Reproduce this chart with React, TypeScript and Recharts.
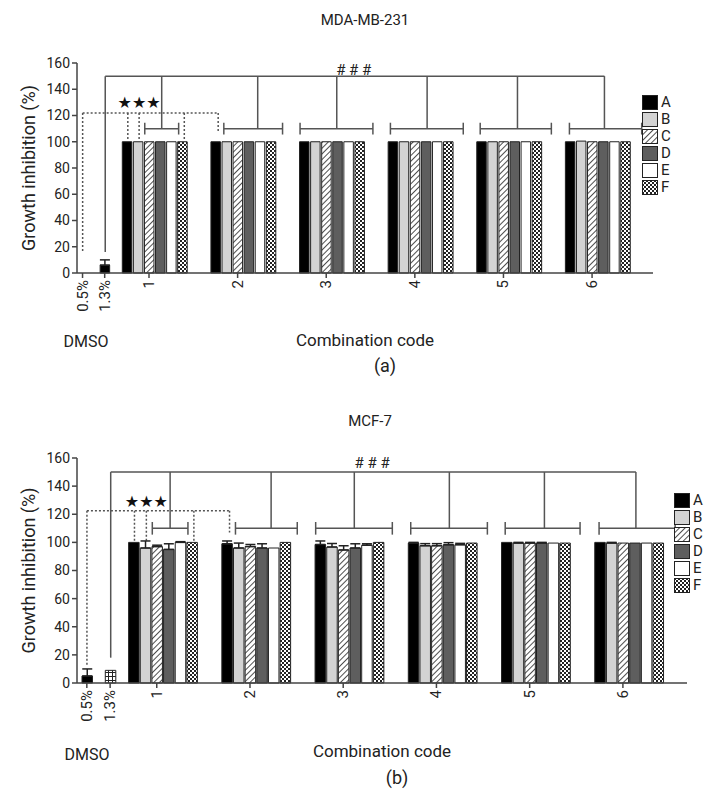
import React from "react";
import {
  Bar,
  BarChart,
  Cell,
  ErrorBar,
  Label,
  Legend,
  ReferenceDot,
  ReferenceLine,
  XAxis,
  YAxis,
} from "recharts";

const seriesNames = ["A", "B", "C", "D", "E", "F"];
const comboCodes = ["1", "2", "3", "4", "5", "6"];
const dmsoDoses = ["0.5%", "1.3%"];
const yTicks = [0, 20, 40, 60, 80, 100, 120, 140, 160];

// MDA-MB-231, panel (a)
const mdaDmso = [0, 6];
const mdaDmsoSd = [0, 4];
const mdaA = [100, 100, 100, 100, 100, 100];
const mdaB = [100, 100, 100, 100, 100, 100.5];
const mdaC = [100, 100, 100, 100, 100, 100];
const mdaD = [100, 100, 100, 100, 100, 100];
const mdaE = [100, 100, 100, 100, 100, 100];
const mdaF = [100, 100, 100, 100, 100, 100];
const mdaNoSd = [0, 0, 0, 0, 0, 0];

// MCF-7, panel (b)
const mcfDmso = [5, 9];
const mcfDmsoSd = [5, 0];
const mcfA = [100, 99, 98.5, 99.5, 100, 100];
const mcfB = [96, 96, 96.7, 97.6, 99.5, 99.5];
const mcfC = [97, 97, 94.6, 97.6, 99.5, 99.5];
const mcfD = [95, 96, 96, 98.3, 99.5, 99.5];
const mcfE = [100, 96, 98, 98.3, 99.5, 99.5];
const mcfF = [100, 100, 100, 99.5, 99.5, 99.5];
const mcfASd = [0, 2, 2.5, 0.5, 0, 0];
const mcfBSd = [5, 3.5, 2.5, 1.5, 0.5, 0.5];
const mcfCSd = [1, 1.5, 3, 1.5, 0.5, 0];
const mcfDSd = [4, 3, 3, 1.5, 0.5, 0];
const mcfESd = [0.5, 0, 1, 1, 0, 0];
const mcfFSd = [0, 0, 0, 0, 0, 0];

const FONT = "Roboto, 'DejaVu Sans', sans-serif";
const INK = "#222";
const LINE = "#555";

// bracket under the "###" line for each combination: from, to, drop (in bar slots from bar A)
const bracketSpans = [
  [2, 5, 3.5],
  [1, 6.2, 4],
  [-0.25, 6.2, 3],
  [-0.25, 6.2, 3],
  [-0.3, 6, 3],
  [-0.4, 6, 2.7],
];

type Row = {
  id: string;
  value: number | null;
  sd?: [number, number];
  fill: string;
  tick?: string;
};

function seriesFill(prefix: string, s: number) {
  return ["#000", "#d3d3d3", `url(#${prefix}-hatch)`, "#5e5e5e", "#fff", `url(#${prefix}-check)`][s];
}

function buildRows(
  prefix: string,
  dmso: number[],
  dmsoSd: number[],
  dmsoFills: string[],
  series: number[][],
  sds: number[][]
): Row[] {
  const rows: Row[] = [];
  const gap = () => rows.push({ id: `gap${rows.length}`, value: null, fill: "none" });
  dmsoDoses.forEach((dose, i) => {
    rows.push({
      id: `dmso${i}`,
      value: dmso[i],
      sd: dmsoSd[i] ? [0, dmsoSd[i]] : undefined,
      fill: dmsoFills[i],
      tick: dose,
    });
    gap();
  });
  comboCodes.forEach((code, g) => {
    seriesNames.forEach((name, s) => {
      rows.push({
        id: `${code}${name}`,
        value: series[s][g],
        sd: sds[s][g] ? [0, sds[s][g]] : undefined,
        fill: seriesFill(prefix, s),
        tick: s === 2 ? code : undefined,
      });
    });
    gap();
    gap();
  });
  return rows;
}

const mdaRows = buildRows(
  "mda",
  mdaDmso,
  mdaDmsoSd,
  ["none", "#000"],
  [mdaA, mdaB, mdaC, mdaD, mdaE, mdaF],
  [mdaNoSd, mdaNoSd, mdaNoSd, mdaNoSd, mdaNoSd, mdaNoSd]
);

const mcfRows = buildRows(
  "mcf",
  mcfDmso,
  mcfDmsoSd,
  ["#000", "url(#mcf-grid)"],
  [mcfA, mcfB, mcfC, mcfD, mcfE, mcfF],
  [mcfASd, mcfBSd, mcfCSd, mcfDSd, mcfESd, mcfFSd]
);

interface PanelProps {
  prefix: string;
  rows: Row[];
  height: number;
  marginTop: number;
  marginRight: number;
  plotBottom: number;
  padLeft: number;
  barSize: number;
  legendLeft: number;
  legendTop: number;
  labelOffset: number;
  dotDrop: number;
  lineDrop: number;
  dashY: number;
  starY: number;
  hashY: number;
}

function Panel(p: PanelProps) {
  const { rows, prefix } = p;
  const idx = (id: string) => rows.findIndex((r) => r.id === id);
  const gs = (g: number) => idx(`${comboCodes[g]}A`);
  const ticks = new Map(rows.filter((r) => r.tick).map((r) => [r.id, r.tick as string]));

  const segs: { x1: number; y1: number; x2: number; y2: number; dash: boolean }[] = [];
  const add = (x1: number, y1: number, x2: number, y2: number, dash = false) =>
    segs.push({ x1, y1, x2, y2, dash });

  const d0 = idx("dmso0") + 0.5;
  const d1 = idx("dmso1") + 0.5;
  add(d1, 150, gs(5) + bracketSpans[5][2], 150);
  add(d1, p.lineDrop, d1, 150);
  bracketSpans.forEach(([from, to, drop], g) => {
    const s = gs(g);
    add(s + drop, 150, s + drop, 110);
    add(s + from, 110, s + to, 110);
    add(s + from, 105.5, s + from, 114.5);
    add(s + to, 105.5, s + to, 114.5);
  });
  add(d0, p.dashY, gs(1) + 0.5, p.dashY, true);
  add(d0, p.dashY, d0, p.dotDrop, true);
  [0.5, 1.5, 5.5].forEach((o) => add(gs(0) + o, p.dashY, gs(0) + o, 101, true));
  add(gs(1) + 0.5, p.dashY, gs(1) + 0.5, 107, true);

  const renderTick = (props: any) => {
    const { x, y, payload } = props;
    const label = ticks.get(payload.value);
    if (!label) return <g />;
    return (
      <g>
        <line x1={x} x2={x} y1={y - 8} y2={y - 3} stroke="#444" strokeWidth={1.5} />
        <text
          x={x}
          y={y - 1}
          transform={`rotate(-90 ${x} ${y - 1})`}
          textAnchor="end"
          dominantBaseline="central"
          fontSize={15}
          fill={INK}
          fontFamily={FONT}
        >
          {label}
        </text>
      </g>
    );
  };

  const renderLegend = () => (
    <div style={{ fontFamily: FONT, fontSize: 15, color: INK }}>
      {seriesNames.map((name, s) => (
        <div key={name} style={{ display: "flex", alignItems: "center", height: 17 }}>
          <svg width={16} height={15}>
            <rect x={0.5} y={0.5} width={15} height={14} fill={seriesFill(prefix, s)} stroke="#222" />
          </svg>
          <span style={{ marginLeft: 3, lineHeight: "15px" }}>{name}</span>
        </div>
      ))}
    </div>
  );

  return (
    <BarChart
      width={726}
      height={p.height}
      data={rows}
      margin={{ top: p.marginTop, right: p.marginRight, bottom: 0, left: 27 }}
      barCategoryGap={0}
      barGap={0}
    >
      <defs>
        <pattern id={`${prefix}-hatch`} width={4} height={4} patternUnits="userSpaceOnUse" patternTransform="rotate(45)">
          <rect width={4} height={4} fill="#fff" />
          <line x1={0} y1={0} x2={0} y2={4} stroke="#222" strokeWidth={1.6} />
        </pattern>
        <pattern id={`${prefix}-check`} width={4} height={4} patternUnits="userSpaceOnUse">
          <rect width={4} height={4} fill="#fff" />
          <rect width={2} height={2} fill="#222" />
          <rect x={2} y={2} width={2} height={2} fill="#222" />
        </pattern>
        <pattern id={`${prefix}-grid`} width={4} height={4} patternUnits="userSpaceOnUse">
          <rect width={4} height={4} fill="#fff" />
          <line x1={0} y1={0.5} x2={4} y2={0.5} stroke="#222" strokeWidth={1} />
          <line x1={0.5} y1={0} x2={0.5} y2={4} stroke="#222" strokeWidth={1} />
        </pattern>
      </defs>
      <XAxis
        dataKey="id"
        interval={0}
        tickLine={false}
        tickSize={5}
        tickMargin={3}
        tick={renderTick}
        height={p.height - p.plotBottom}
        padding={{ left: p.padLeft, right: 0 }}
        axisLine={{ stroke: "#444", strokeWidth: 1.5 }}
      >
        <Label
          value="Combination code"
          position="insideBottom"
          offset={p.labelOffset}
          style={{ fontSize: 17, fill: INK, fontFamily: FONT }}
        />
      </XAxis>
      <XAxis
        xAxisId="pos"
        type="number"
        domain={[0, rows.length]}
        hide
        allowDataOverflow
        padding={{ left: p.padLeft, right: 0 }}
      />
      <YAxis
        domain={[0, 160]}
        ticks={yTicks}
        interval={0}
        width={50}
        tickSize={5}
        tick={{ fontSize: 14, fill: INK, fontFamily: FONT }}
        axisLine={{ stroke: "#444", strokeWidth: 1.5 }}
        tickLine={{ stroke: "#444", strokeWidth: 1.5 }}
      >
        <Label
          value="Growth inhibition (%)"
          angle={-90}
          position="insideLeft"
          offset={2}
          style={{ textAnchor: "middle", fontSize: 18, fill: INK, fontFamily: FONT }}
        />
      </YAxis>
      <Legend
        layout="horizontal"
        verticalAlign="middle"
        align="center"
        content={renderLegend}
        wrapperStyle={{ left: p.legendLeft, top: p.legendTop, width: "auto", height: "auto" }}
      />
      {segs.map((s, i) => (
        <ReferenceLine
          key={i}
          xAxisId="pos"
          segment={[
            { x: s.x1, y: s.y1 },
            { x: s.x2, y: s.y2 },
          ]}
          stroke={LINE}
          strokeWidth={1.5}
          strokeDasharray={s.dash ? "2 2" : undefined}
          ifOverflow="visible"
        />
      ))}
      <ReferenceDot
        xAxisId="pos"
        x={gs(0) + 1.5}
        y={p.starY}
        r={0}
        fill="none"
        stroke="none"
        label={{ value: "★★★", position: "center", fontSize: 16, fill: "#111", fontFamily: "'DejaVu Sans'" }}
      />
      <ReferenceDot
        xAxisId="pos"
        x={gs(2) + 4.5}
        y={p.hashY}
        r={0}
        fill="none"
        stroke="none"
        label={{ value: "# # #", position: "center", fontSize: 15, fill: INK, fontFamily: FONT }}
      />
      <Bar dataKey="value" barSize={p.barSize} isAnimationActive={false}>
        {rows.map((r) => (
          <Cell key={r.id} fill={r.fill} stroke={r.value ? "#222" : "none"} strokeWidth={1} />
        ))}
        <ErrorBar dataKey="sd" direction="y" width={5} stroke="#222" strokeWidth={1.5} />
      </Bar>
    </BarChart>
  );
}

const textStyle = (x: number, y: number, size: number): React.CSSProperties => ({
  position: "absolute",
  left: x,
  top: y,
  transform: "translate(-50%, -50%)",
  fontFamily: FONT,
  fontSize: size,
  color: INK,
  whiteSpace: "nowrap",
});

export default function App() {
  return (
    <div style={{ position: "absolute", left: 0, top: 0, width: 726, height: 793, background: "#fff" }}>
      <div style={{ position: "absolute", left: 0, top: 0 }}>
        <Panel
          prefix="mda"
          rows={mdaRows}
          height={400}
          marginTop={63}
          marginRight={73}
          plotBottom={273}
          padLeft={0}
          barSize={9.5}
          legendLeft={642}
          legendTop={94}
          labelOffset={54}
          dotDrop={16}
          lineDrop={16}
          dashY={122}
          starY={130}
          hashY={155}
        />
      </div>
      <div style={{ position: "absolute", left: 0, top: 400 }}>
        <Panel
          prefix="mcf"
          rows={mcfRows}
          height={393}
          marginTop={58}
          marginRight={39}
          plotBottom={283}
          padLeft={4}
          barSize={10.5}
          legendLeft={674}
          legendTop={92}
          labelOffset={36}
          dotDrop={12}
          lineDrop={18}
          dashY={122.5}
          starY={129}
          hashY={157}
        />
      </div>
      <div style={textStyle(365, 20, 15)}>MDA-MB-231</div>
      <div style={textStyle(86, 341, 16)}>DMSO</div>
      <div style={textStyle(385, 365, 18)}>(a)</div>
      <div style={textStyle(370, 421, 15)}>MCF-7</div>
      <div style={textStyle(87, 754, 16)}>DMSO</div>
      <div style={textStyle(397, 777, 18)}>(b)</div>
    </div>
  );
}
